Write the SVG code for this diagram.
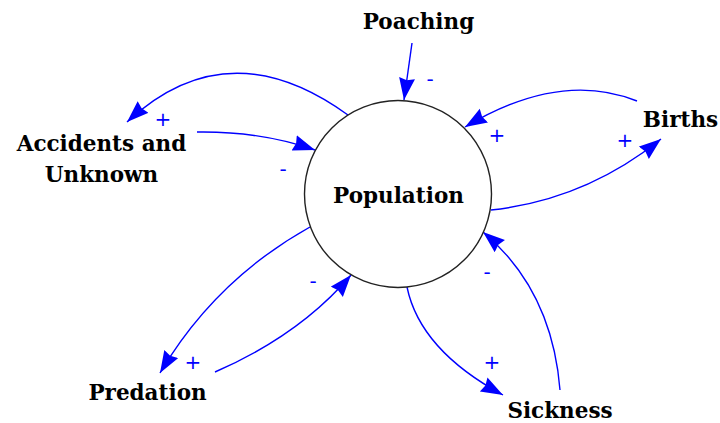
<svg xmlns="http://www.w3.org/2000/svg" width="720" height="423" viewBox="0 0 720 423">
<style>
.lbl{font-family:"DejaVu Serif","Liberation Serif",serif;font-weight:bold;font-size:21.5px;fill:#000;text-anchor:middle}
.lnk{fill:none;stroke:#0000ff;stroke-width:1.4;marker-end:url(#ah)}
.sg{font-family:"DejaVu Sans","Liberation Sans",sans-serif;font-size:20px;fill:#0000ff;text-anchor:middle}
</style>
<defs>
<marker id="ah" markerUnits="userSpaceOnUse" markerWidth="26" markerHeight="20" refX="22" refY="8" orient="auto">
<path d="M0,0 L22,8 L0,16 L2,8 z" fill="#0000ff"/>
</marker>
</defs>
<rect width="720" height="423" fill="#fff"/>
<g id="connectors">
<path class="lnk" d="M412,43 L404,100"/>
<path class="lnk" d="M348,115 Q228,28 127,122"/>
<path class="lnk" d="M197,132 Q260,131 315,150"/>
<path class="lnk" d="M637,101 Q560,70 465,127"/>
<path class="lnk" d="M491,210 Q585,200 661,139"/>
<path class="lnk" d="M310,227 Q215,280 160,373"/>
<path class="lnk" d="M215,372 Q300,335 351,275"/>
<path class="lnk" d="M407,287 Q420,350 503,395"/>
<path class="lnk" d="M560,390 Q552,290 483,232"/>
<text class="sg" x="430" y="86">-</text>
<text class="sg" x="163" y="126">+</text>
<text class="sg" x="283" y="176">-</text>
<text class="sg" x="497" y="142">+</text>
<text class="sg" x="625" y="147">+</text>
<text class="sg" x="193" y="369">+</text>
<text class="sg" x="313" y="288">-</text>
<text class="sg" x="492" y="369">+</text>
<text class="sg" x="487" y="279">-</text>
</g>
<g id="population">
<circle cx="398" cy="194" r="93.5" fill="#fff" stroke="#222" stroke-width="1.4"/>
<text class="lbl" x="398.5" y="203">Population</text>
</g>
<g id="poaching"><text class="lbl" x="418.5" y="28.5">Poaching</text></g>
<g id="accidents"><text class="lbl" x="101.5" y="151">Accidents and</text><text class="lbl" x="101.5" y="182">Unknown</text></g>
<g id="births"><text class="lbl" x="680.5" y="127">Births</text></g>
<g id="predation"><text class="lbl" x="147.5" y="400">Predation</text></g>
<g id="sickness"><text class="lbl" x="560" y="418">Sickness</text></g>
</svg>
